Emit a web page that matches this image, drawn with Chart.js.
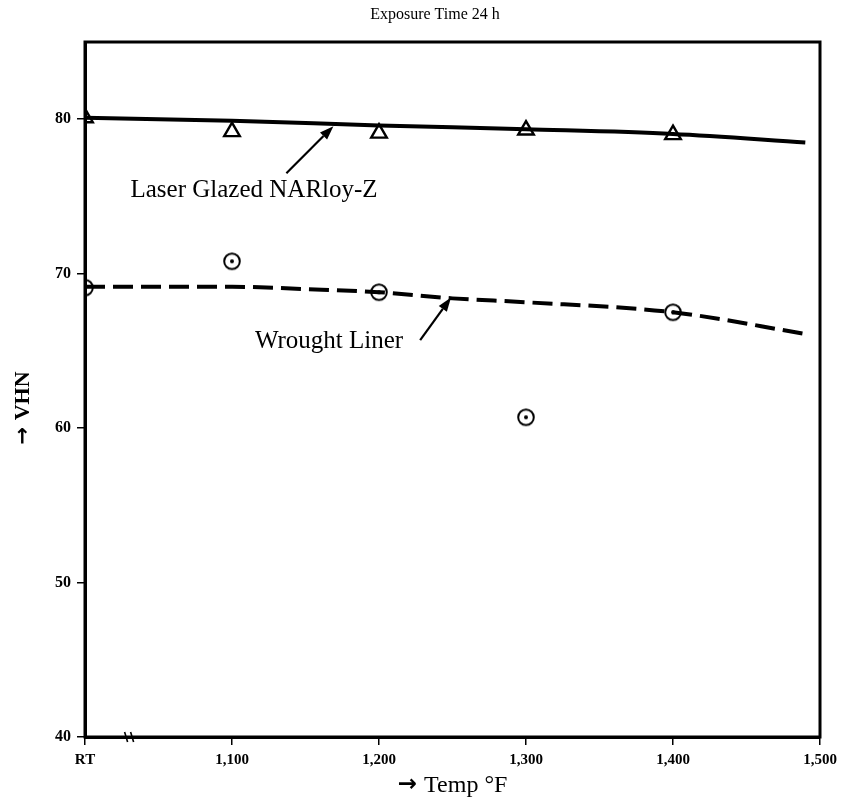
<!DOCTYPE html>
<html>
<head>
<meta charset="utf-8">
<script src="https://cdn.jsdelivr.net/npm/chart.js@4.4.1/dist/chart.umd.min.js"></script>
<style>
  html, body { margin: 0; padding: 0; background: #ffffff; }
  #wrap { width: 848px; height: 804px; position: relative; }
</style>
</head>
<body>
<div id="wrap"><canvas id="c" width="848" height="804"></canvas></div>
<script>
// ---- data ----
const xTickValues = [1000, 1100, 1200, 1300, 1400, 1500];
const xTickLabels = ['RT', '1,100', '1,200', '1,300', '1,400', '1,500'];
const yTickValues = [40, 50, 60, 70, 80];

const laserTemps = [1000, 1100, 1200, 1300, 1400];
const laserVHN   = [80.1, 79.2, 79.1, 79.3, 79.0];

const wroughtTemps = [1000, 1100, 1200, 1300, 1400];
const wroughtVHN   = [69.1, 70.8, 68.8, 60.7, 67.5];

const laserFitTemps = [1000, 1100, 1200, 1300, 1400, 1490];
const laserFitVHN   = [80.1, 79.9, 79.6, 79.35, 79.05, 78.5];

const wroughtFitTemps = [1000, 1100, 1150, 1200, 1250, 1300, 1400, 1490];
const wroughtFitVHN   = [69.15, 69.15, 69.0, 68.8, 68.4, 68.15, 67.5, 66.1];

const titleText = 'Exposure Time 24 h';
const xTitle = 'Temp \u00B0F';
const yTitle = 'VHN';
const arrowGlyph = '\u2192';
const laserLabel = 'Laser Glazed NARloy-Z';
const wroughtLabel = 'Wrought Liner';
// annotation anchors in data units: [textX, textY, arrowFromX, arrowFromY, arrowToX, arrowToY]
const laserNote   = [1115, 75.4, 1137, 76.5, 1169, 79.55];
const wroughtNote = [1166, 65.6, 1228, 65.7, 1249, 68.45];
const breakAt = 1030;

// ---- helpers ----
const pair = (xs, ys) => xs.map((x, i) => ({ x: x, y: ys[i] }));
const SERIF = '"Liberation Serif", "Times New Roman", serif';
const ARROWFONT = '"DejaVu Sans", sans-serif';

function circleDotStyle() {
  const c = document.createElement('canvas');
  c.width = 20; c.height = 20;
  const g = c.getContext('2d');
  g.strokeStyle = '#000'; g.lineWidth = 2;
  g.beginPath(); g.arc(10, 10, 7.8, 0, Math.PI * 2); g.stroke();
  g.fillStyle = '#000';
  g.beginPath(); g.arc(10, 10, 2, 0, Math.PI * 2); g.fill();
  return c;
}

function arrow(ctx, x1, y1, x2, y2) {
  const ang = Math.atan2(y2 - y1, x2 - x1);
  const hl = 14, hw = 5;
  const bx = x2 - hl * Math.cos(ang), by = y2 - hl * Math.sin(ang);
  ctx.beginPath();
  ctx.moveTo(x1, y1); ctx.lineTo(bx, by);
  ctx.lineWidth = 2.2; ctx.strokeStyle = '#000'; ctx.stroke();
  ctx.beginPath();
  ctx.moveTo(x2, y2);
  ctx.lineTo(bx + hw * Math.sin(ang), by - hw * Math.cos(ang));
  ctx.lineTo(bx - hw * Math.sin(ang), by + hw * Math.cos(ang));
  ctx.closePath(); ctx.fillStyle = '#000'; ctx.fill();
}

// draws "→ text" centred at (0,0) in the current transform
function arrowTitle(ctx, text, size, bold) {
  ctx.textBaseline = 'alphabetic';
  ctx.textAlign = 'left';
  ctx.font = 'bold ' + Math.round(size * 0.95) + 'px ' + ARROWFONT;
  const aw = ctx.measureText(arrowGlyph).width;
  ctx.font = (bold ? 'bold ' : '') + size + 'px ' + SERIF;
  const gap = size * 0.3;
  const tw = ctx.measureText(text).width;
  const total = aw + gap + tw;
  const x0 = -total / 2, base = size * 0.33;
  ctx.font = 'bold ' + Math.round(size * 0.95) + 'px ' + ARROWFONT;
  ctx.fillText(arrowGlyph, x0, base - size * 0.02);
  ctx.font = (bold ? 'bold ' : '') + size + 'px ' + SERIF;
  ctx.fillText(text, x0 + aw + gap, base);
}

const decorPlugin = {
  id: 'decor',
  afterDraw(chart) {
    const ctx = chart.ctx, a = chart.chartArea;
    const xs = chart.scales.x, ys = chart.scales.y;
    ctx.save();
    // frame
    ctx.strokeStyle = '#000'; ctx.lineWidth = 3;
    ctx.strokeRect(a.left, a.top, a.right - a.left, a.bottom - a.top);
    // title
    ctx.fillStyle = '#000';
    ctx.font = '16px ' + SERIF;
    ctx.textAlign = 'center'; ctx.textBaseline = 'middle';
    ctx.fillText(titleText, 435, 15);
    // axis titles
    ctx.save(); ctx.translate((a.left + a.right) / 2, 784);
    arrowTitle(ctx, xTitle, 24, false); ctx.restore();
    ctx.save(); ctx.translate(22, 408); ctx.rotate(-Math.PI / 2);
    arrowTitle(ctx, yTitle, 22, true); ctx.restore();
    // axis break mark
    const bx = xs.getPixelForValue(breakAt), by = a.bottom;
    ctx.lineWidth = 1.6;
    [-3, 3].forEach(d => {
      ctx.beginPath();
      ctx.moveTo(bx + d - 1.5, by - 5); ctx.lineTo(bx + d + 1.5, by + 5); ctx.stroke();
    });
    // annotations
    ctx.font = '25px ' + SERIF;
    ctx.textAlign = 'center'; ctx.textBaseline = 'middle';
    [[laserNote, laserLabel], [wroughtNote, wroughtLabel]].forEach(([n, t]) => {
      ctx.fillText(t, xs.getPixelForValue(n[0]), ys.getPixelForValue(n[1]));
      arrow(ctx, xs.getPixelForValue(n[2]), ys.getPixelForValue(n[3]),
                 xs.getPixelForValue(n[4]), ys.getPixelForValue(n[5]));
    });
    ctx.restore();
  }
};

new Chart(document.getElementById('c'), {
  type: 'scatter',
  data: {
    datasets: [
      {
        type: 'line', label: 'Laser glazed fit',
        data: pair(laserFitTemps, laserFitVHN),
        borderColor: '#000', borderWidth: 4, pointRadius: 0,
        cubicInterpolationMode: 'monotone', fill: false
      },
      {
        type: 'line', label: 'Wrought fit',
        data: pair(wroughtFitTemps, wroughtFitVHN),
        borderColor: '#000', borderWidth: 4, borderDash: [20, 8], pointRadius: 0,
        cubicInterpolationMode: 'monotone', fill: false
      },
      {
        label: 'Laser Glazed NARloy-Z',
        data: pair(laserTemps, laserVHN),
        pointStyle: 'triangle', pointRadius: 9, pointBorderWidth: 2.4,
        pointBorderColor: '#000', pointBackgroundColor: 'rgba(0,0,0,0)'
      },
      {
        label: 'Wrought Liner',
        data: pair(wroughtTemps, wroughtVHN),
        pointStyle: circleDotStyle(), pointRadius: 10
      }
    ]
  },
  options: {
    responsive: false,
    animation: false,
    layout: { padding: { top: 42, right: 28, left: 0, bottom: 0 } },
    plugins: { legend: { display: false }, tooltip: { enabled: false }, title: { display: false } },
    scales: {
      x: {
        type: 'linear', min: 1000, max: 1500,
        afterFit: s => { s.height = 804 - 737; },
        afterBuildTicks: s => { s.ticks = xTickValues.map(v => ({ value: v })); },
        ticks: {
          autoSkip: false, maxRotation: 0, padding: 6, color: '#000',
          font: { family: SERIF, size: 15, weight: 'bold' },
          callback: v => xTickLabels[xTickValues.indexOf(v)]
        },
        grid: { drawOnChartArea: false, drawTicks: true, tickLength: 8, color: '#000', lineWidth: 1.5 },
        border: { color: '#000', width: 3 }
      },
      y: {
        type: 'linear', min: 40, max: 85,
        afterFit: s => { s.width = 85; },
        afterBuildTicks: s => { s.ticks = yTickValues.map(v => ({ value: v })); },
        ticks: {
          autoSkip: false, padding: 6, color: '#000',
          font: { family: SERIF, size: 16, weight: 'bold' }
        },
        grid: { drawOnChartArea: false, drawTicks: true, tickLength: 8, color: '#000', lineWidth: 1.5 },
        border: { color: '#000', width: 3 }
      }
    }
  },
  plugins: [decorPlugin]
});
</script>
</body>
</html>
